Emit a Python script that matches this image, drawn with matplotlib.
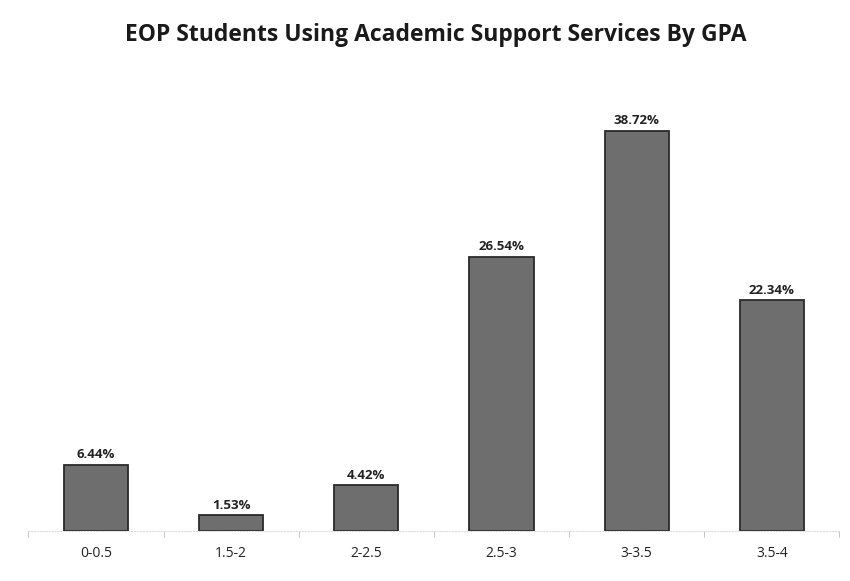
import matplotlib.pyplot as plt

gpa = ["0-0.5", "1.5-2", "2-2.5", "2.5-3", "3-3.5", "3.5-4"]
pct = [6.44, 1.53, 4.42, 26.54, 38.72, 22.34]
labels = ["6.44%", "1.53%", "4.42%", "26.54%", "38.72%", "22.34%"]

plt.rcParams['font.family'] = ['Open Sans', 'DejaVu Sans']

fig = plt.figure(figsize=(8.5, 5.81), dpi=100)
ax = fig.add_axes([0.0335, 0.086, 0.954, 0.80])

x = range(len(gpa))
bars = ax.bar(x, pct, width=0.475, color='#6e6e6e', edgecolor='#2a2a2a', linewidth=1.3)
for b, t in zip(bars, labels):
    ax.text(b.get_x() + b.get_width() / 2, b.get_height() + 0.35, t,
            ha='center', va='bottom', fontsize=9.5, fontweight='bold', color='#222222')

ax.set_xlim(-0.5, 5.5)
ax.set_ylim(0, 45)
ax.set_xticks(list(x))
ax.set_xticklabels(gpa, fontsize=10, color='#222222')
ax.set_xticks([i + 0.5 for i in range(-1, len(gpa))], minor=True)
ax.tick_params(axis='x', which='major', length=0, pad=11)
ax.tick_params(axis='x', which='minor', length=4, color='#bbbbbb', direction='out')
ax.set_yticks([])
for s in ['top', 'right', 'left']:
    ax.spines[s].set_visible(False)
ax.spines['bottom'].set_color('#dddddd')
ax.spines['bottom'].set_linestyle(':')

fig.text(0.513, 0.94, "EOP Students Using Academic Support Services By GPA",
         ha='center', va='center', fontsize=16.5, fontweight='bold', color='#1a1a1a')

fig.savefig("out.png", dpi=100)
